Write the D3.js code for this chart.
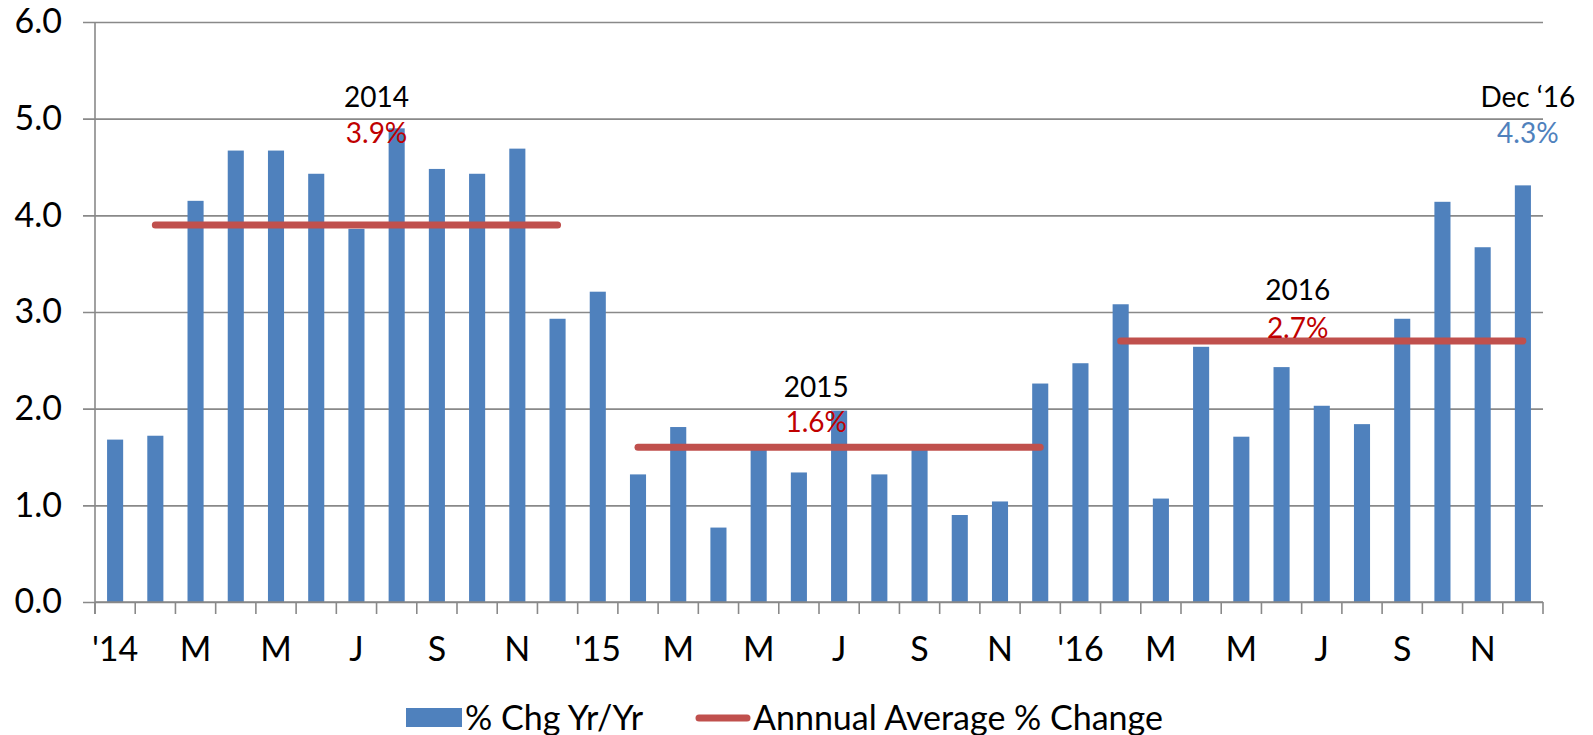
<!DOCTYPE html>
<html>
<head>
<meta charset="utf-8">
<script src="https://cdn.jsdelivr.net/npm/d3@7"></script>
<style>
  body { margin: 0; background: #fff; }
  svg text { font-family: Lato, "Noto Sans", sans-serif; }
</style>
</head>
<body>
<div id="chart"></div>
<script>
// Monthly data, Jan 2014 - Dec 2016
const months = [
  "Jan 14","Feb 14","Mar 14","Apr 14","May 14","Jun 14","Jul 14","Aug 14","Sep 14","Oct 14","Nov 14","Dec 14",
  "Jan 15","Feb 15","Mar 15","Apr 15","May 15","Jun 15","Jul 15","Aug 15","Sep 15","Oct 15","Nov 15","Dec 15",
  "Jan 16","Feb 16","Mar 16","Apr 16","May 16","Jun 16","Jul 16","Aug 16","Sep 16","Oct 16","Nov 16","Dec 16"
];
const monthLabels = [
  "'14","","M","","M","","J","","S","","N","",
  "'15","","M","","M","","J","","S","","N","",
  "'16","","M","","M","","J","","S","","N",""
];
const pctChg = [
  1.68, 1.72, 4.15, 4.67, 4.67, 4.43, 3.86, 4.90, 4.48, 4.43, 4.69, 2.93,
  3.21, 1.32, 1.81, 0.77, 1.58, 1.34, 1.98, 1.32, 1.59, 0.90, 1.04, 2.26,
  2.47, 3.08, 1.07, 2.64, 1.71, 2.43, 2.03, 1.84, 2.93, 4.14, 3.67, 4.31
];
const years = ["14", "15", "16"];
const yearLabels = ["2014", "2015", "2016"];
const annualAvg = [3.9, 1.6, 2.7];
const yTicks = [0, 1, 2, 3, 4, 5, 6];

const width = 1593;
const height = 735;
const svg = d3.select("#chart")
  .append("svg")
  .attr("width", width)
  .attr("height", height);

const plotLeft = 95, plotRight = 1543, plotTop = 22, plotBottom = 602;

// Scales
const x = d3.scaleBand()
  .domain(months)
  .range([plotLeft, plotRight])
  .paddingInner(0.6)
  .paddingOuter(0.3);
const y = d3.scaleLinear()
  .domain([0, 6])
  .range([plotBottom, plotTop]);
const cx = m => x(m) + x.bandwidth() / 2;
const step = x.step();

const grey = "#898989";

// Gridlines + y labels
const yAxis = svg.append("g")
  .attr("transform", `translate(${plotLeft - 12},0)`)
  .call(d3.axisLeft(y)
    .tickValues(yTicks)
    .tickFormat(d3.format(".1f"))
    .tickSizeInner(-(plotRight - plotLeft + 12))
    .tickSizeOuter(0)
    .tickPadding(21));
yAxis.select(".domain").remove();
yAxis.selectAll("line").attr("stroke", grey).attr("stroke-width", 1.6);
yAxis.selectAll("text")
  .attr("fill", "#000")
  .style("font-size", "34px");

// Vertical axis line
svg.append("line")
  .attr("x1", plotLeft).attr("x2", plotLeft)
  .attr("y1", plotTop).attr("y2", plotBottom + 12)
  .attr("stroke", grey).attr("stroke-width", 1.6);

// Bars
svg.append("g")
  .selectAll("rect")
  .data(months)
  .enter().append("rect")
  .attr("x", d => x(d))
  .attr("width", x.bandwidth())
  .attr("y", (d, i) => y(pctChg[i]))
  .attr("height", (d, i) => y(0) - y(pctChg[i]))
  .attr("fill", "#4F81BD");

// X axis baseline and ticks between months
svg.append("line")
  .attr("x1", plotLeft).attr("x2", plotRight)
  .attr("y1", y(0)).attr("y2", y(0))
  .attr("stroke", grey).attr("stroke-width", 1.6);
const boundaries = months.map(m => cx(m) - step / 2).concat([plotRight]);
svg.append("g")
  .selectAll("line")
  .data(boundaries)
  .enter().append("line")
  .attr("x1", d => d).attr("x2", d => d)
  .attr("y1", y(0)).attr("y2", y(0) + 12)
  .attr("stroke", grey).attr("stroke-width", 1.6);

// X labels
const xAxis = svg.append("g")
  .attr("transform", `translate(0,${y(0)})`)
  .call(d3.axisBottom(x)
    .tickSize(0)
    .tickPadding(35)
    .tickFormat((d, i) => monthLabels[i]));
xAxis.select(".domain").remove();
xAxis.selectAll("text")
  .attr("fill", "#000")
  .style("font-size", "34px");

// Annual average lines (Feb - Dec of each year)
const line = d3.line()
  .x(d => cx(d.m))
  .y(d => y(d.v));
years.forEach((yr, k) => {
  const pts = months.filter(m => m.endsWith(yr)).slice(1).map(m => ({ m: m, v: annualAvg[k] }));
  svg.append("path")
    .datum(pts)
    .attr("d", line)
    .attr("fill", "none")
    .attr("stroke", "#C0504D")
    .attr("stroke-width", 7)
    .attr("stroke-linecap", "round");
});

// Annotations
const annoPos = [
  { at: 7.0, yTop: 5.23, yVal: 4.86 },
  { at: 17.93, yTop: 2.23, yVal: 1.87 },
  { at: 29.9, yTop: 3.24, yVal: 2.85 }
];
const xIdx = i => plotLeft + step * i;
annoPos.forEach((a, k) => {
  svg.append("text")
    .attr("x", xIdx(a.at)).attr("y", y(a.yTop))
    .attr("text-anchor", "middle").attr("dominant-baseline", "central")
    .style("font-size", "28px").attr("fill", "#000")
    .text(yearLabels[k]);
  svg.append("text")
    .attr("x", xIdx(a.at)).attr("y", y(a.yVal))
    .attr("text-anchor", "middle").attr("dominant-baseline", "central")
    .style("font-size", "28px").attr("fill", "#C00000")
    .text(annualAvg[k].toFixed(1) + "%");
});
const last = months.length - 1;
svg.append("text")
  .attr("x", cx(months[last]) + 5).attr("y", y(5.23))
  .attr("text-anchor", "middle").attr("dominant-baseline", "central")
  .style("font-size", "28px").attr("fill", "#000")
  .text("Dec \u201816");
svg.append("text")
  .attr("x", cx(months[last]) + 5).attr("y", y(4.86))
  .attr("text-anchor", "middle").attr("dominant-baseline", "central")
  .style("font-size", "28px").attr("fill", "#4F81BD")
  .text(pctChg[last].toFixed(1) + "%");

// Legend
const legend = svg.append("g");
legend.append("rect")
  .attr("x", 406).attr("y", 708)
  .attr("width", 56).attr("height", 19)
  .attr("fill", "#4F81BD");
legend.append("text")
  .attr("x", 465).attr("y", 716)
  .attr("dominant-baseline", "central")
  .style("font-size", "34px").attr("fill", "#000")
  .text("% Chg Yr/Yr");
legend.append("line")
  .attr("x1", 699).attr("x2", 747)
  .attr("y1", 718).attr("y2", 718)
  .attr("stroke", "#C0504D").attr("stroke-width", 7)
  .attr("stroke-linecap", "round");
legend.append("text")
  .attr("x", 753).attr("y", 716)
  .attr("dominant-baseline", "central")
  .style("font-size", "34px").attr("fill", "#000")
  .text("Annnual Average % Change");
</script>
</body>
</html>
